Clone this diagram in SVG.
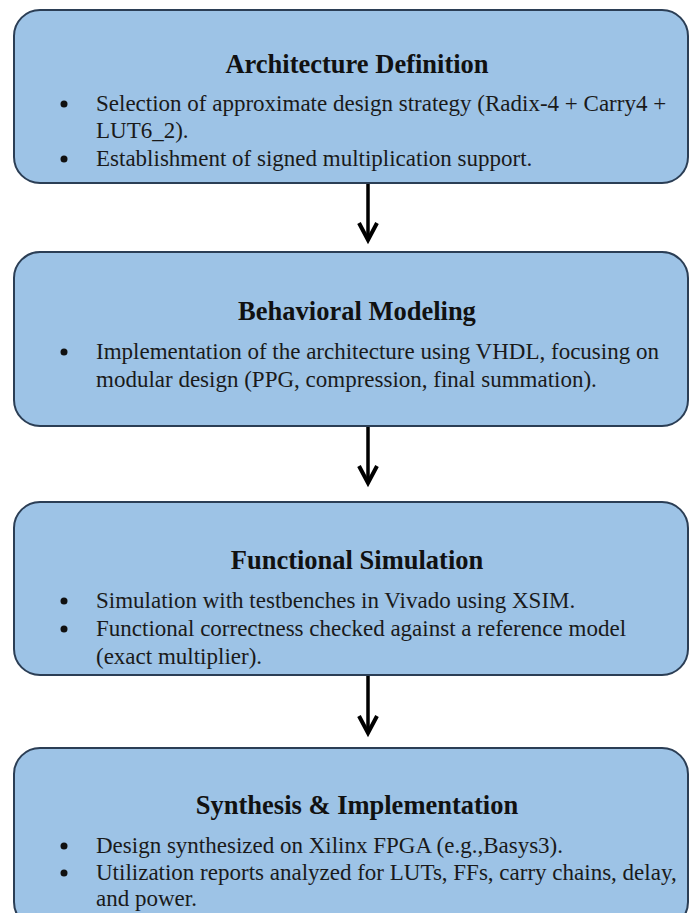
<svg xmlns="http://www.w3.org/2000/svg" width="690" height="913" viewBox="0 0 690 913">
  <style>
    .box { fill: #9DC3E6; stroke: #2B3E55; stroke-width: 2; }
    .title { font-family: "Liberation Serif", "Times New Roman", serif; font-size: 26.5px; font-weight: bold; fill: #111111; text-anchor: middle; }
    .body { font-family: "Liberation Serif", "Times New Roman", serif; font-size: 23px; fill: #1a1a1a; }
    .dot { fill: #111111; }
    .shaft { stroke: #000; stroke-width: 3.5; fill: none; }
    .head { stroke: #000; stroke-width: 4; fill: none; stroke-linejoin: miter; stroke-linecap: butt; }
  </style>
  <rect x="0" y="0" width="690" height="913" fill="#ffffff"/>

  <g id="connectors">
    <line class="shaft" x1="368" y1="184" x2="368" y2="238"/>
    <polyline class="head" points="359,223 368,240 377,223"/>
    <line class="shaft" x1="368" y1="427" x2="368" y2="481"/>
    <polyline class="head" points="359,466 368,483 377,466"/>
    <line class="shaft" x1="368" y1="676" x2="368" y2="731"/>
    <polyline class="head" points="359,716 368,733 377,716"/>
  </g>

  <g id="node-architecture">
    <rect class="box" x="14" y="10" width="674" height="173" rx="26" ry="26"/>
    <text class="title" x="357" y="73">Architecture Definition</text>
    <circle class="dot" cx="64" cy="104" r="3.5"/>
    <text class="body" x="96" y="111">Selection of approximate design strategy (Radix-4 + Carry4 +</text>
    <text class="body" x="96" y="138">LUT6_2).</text>
    <circle class="dot" cx="64" cy="159" r="3.5"/>
    <text class="body" x="96" y="166">Establishment of signed multiplication support.</text>
  </g>

  <g id="node-behavioral">
    <rect class="box" x="14" y="252" width="674" height="174" rx="26" ry="26"/>
    <text class="title" x="357" y="320">Behavioral Modeling</text>
    <circle class="dot" cx="64" cy="352" r="3.5"/>
    <text class="body" x="96" y="359">Implementation of the architecture using VHDL, focusing on</text>
    <text class="body" x="96" y="387">modular design (PPG, compression, final summation).</text>
  </g>

  <g id="node-simulation">
    <rect class="box" x="14" y="502" width="674" height="173" rx="26" ry="26"/>
    <text class="title" x="357" y="569">Functional Simulation</text>
    <circle class="dot" cx="64" cy="601" r="3.5"/>
    <text class="body" x="96" y="608">Simulation with testbenches in Vivado using XSIM.</text>
    <circle class="dot" cx="64" cy="629" r="3.5"/>
    <text class="body" x="96" y="636">Functional correctness checked against a reference model</text>
    <text class="body" x="96" y="664">(exact multiplier).</text>
  </g>

  <g id="node-synthesis">
    <rect class="box" x="14" y="748" width="674" height="180" rx="26" ry="26"/>
    <text class="title" x="357" y="814">Synthesis &amp; Implementation</text>
    <circle class="dot" cx="64" cy="846" r="3.5"/>
    <text class="body" x="96" y="853">Design synthesized on Xilinx FPGA (e.g.,Basys3).</text>
    <circle class="dot" cx="64" cy="873" r="3.5"/>
    <text class="body" x="96" y="880">Utilization reports analyzed for LUTs, FFs, carry chains, delay,</text>
    <text class="body" x="96" y="906">and power.</text>
  </g>
</svg>
